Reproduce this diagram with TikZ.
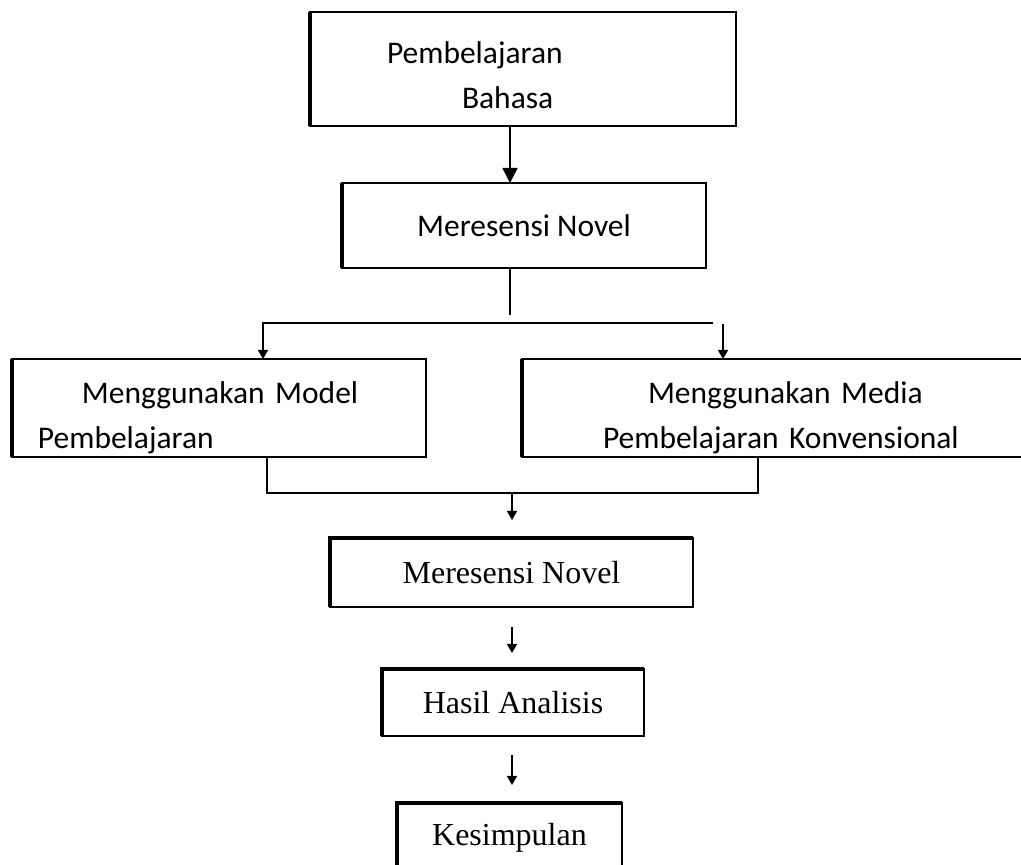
\documentclass[tikz,border=0pt]{standalone}
\usepackage{fontspec}
\setmainfont{Liberation Serif}
\newfontfamily\bodysans{Carlito}
\usetikzlibrary{arrows.meta}

\tikzset{
  boxnode/.style={draw=black,line width=1.6pt,inner sep=0pt,outer sep=0pt,
    font=\bodysans\fontsize{31.5}{45}\selectfont},
  boxserif/.style={boxnode,font=\fontsize{32}{38}\selectfont},
  sideline/.style={draw=black,line width=4pt},
  connline/.style={draw=black,line width=1.5pt},
  bigarr/.style={connline,-{Triangle[width=15pt,length=15pt]}},
  smallarr/.style={connline,-{Triangle[width=10pt,length=9pt]}}
}

\begin{document}
\begin{tikzpicture}[x=1pt,y=1pt]
\definecolor{fillColor}{RGB}{255,255,255}
\path[use as bounding box,fill=fillColor] (0,0) rectangle (1021,865);

% boxes
\node[boxnode,text width=426pt,minimum height=114pt,align=left] (bahasa) at (523,796)
  {\rule{0pt}{34pt}\hspace*{77pt}Pembelajaran\\\hspace*{152pt}Bahasa};
\node[boxnode,minimum width=364pt,minimum height=85pt] (resensi) at (524,639.5) {Meresensi Novel};
\node[boxnode,text width=414pt,minimum height=98pt,align=left] (model) at (219,457)
  {\rule{0pt}{42pt}\hspace*{70pt}Menggunakan Model\\\hspace*{26pt}Pembelajaran};
\node[boxnode,text width=518pt,minimum height=98pt,align=left] (media) at (781,457)
  {\rule{0pt}{42pt}\hspace*{126pt}Menggunakan Media\\\hspace*{81pt}Pembelajaran Konvensional};
\node[boxserif,minimum width=363pt,minimum height=69pt] (novel) at (511.5,292.5) {Meresensi Novel};
\node[boxserif,minimum width=262pt,minimum height=67pt] (hasil) at (513,162.5) {Hasil Analisis};
\node[boxserif,minimum width=225pt,minimum height=70pt] (simpul) at (509.5,27) {Kesimpulan};

% thick sides
\draw[sideline] (bahasa.north west) -- (bahasa.south west);
\draw[sideline] (resensi.north west) -- (resensi.south west);
\draw[sideline] (model.north west) -- (model.south west);
\draw[sideline] (media.north west) -- (media.south west);
\draw[sideline] (novel.south west) -- (novel.north west) -- (novel.north east);
\draw[sideline] (hasil.south west) -- (hasil.north west) -- (hasil.north east);
\draw[sideline] (simpul.south west) -- (simpul.north west) -- (simpul.north east);

% split
\coordinate (jn) at (510,550);
\coordinate (spL) at (262,542);
\coordinate (spR) at (713,542);
\coordinate (spR2) at (723,541);
\coordinate (mgL) at (267,372);
\coordinate (mgR) at (758,372);
\coordinate (mgC) at (512,372);

\draw[bigarr] ([xshift=-13pt]bahasa.south) -- ([xshift=-14pt]resensi.north);
\draw[connline] ([xshift=-14pt]resensi.south) -- (jn);
\draw[connline] (spL) -- (spR);
\draw[smallarr] ([xshift=1pt]spL) -- ([xshift=44pt]model.north);
\draw[smallarr] (spR2) -- ([xshift=-58pt]media.north);

% merge
\draw[connline] ([xshift=48pt]model.south) -- (mgL) -- (mgR) -- ([xshift=-23pt]media.south);
\draw[smallarr,shorten >=18pt] (mgC) -- (mgC |- novel.north);
\draw[smallarr,shorten <=20pt,shorten >=16pt] ([xshift=0.5pt]novel.south) -- ([xshift=-1pt]hasil.north);
\draw[smallarr,shorten <=19pt,shorten >=18pt] ([xshift=-1pt]hasil.south) -- ([xshift=2.5pt]simpul.north);
\end{tikzpicture}
\end{document}
